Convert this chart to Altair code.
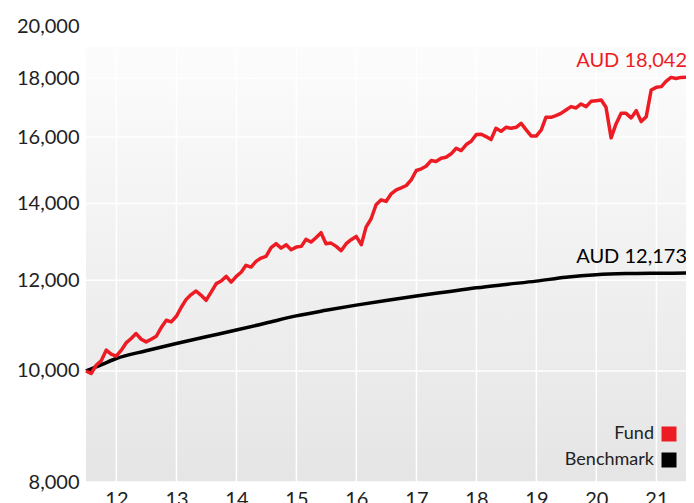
import calendar
import altair as alt
import pandas as pd

# ---------------- data ----------------
series_names = ["Fund", "Benchmark"]
series_colors = ["#ED1C24", "#000000"]

# Fund: month-end values, Jun 2011 .. Jun 2021 (growth of AUD 10,000)
fund_values = [
    10000, 9949, 10116, 10204, 10426, 10342, 10301, 10426, 10579, 10673,
    10780, 10658, 10601, 10658, 10722, 10911, 11072, 11035, 11161, 11372,
    11541, 11658, 11743, 11642, 11525, 11718, 11918, 11981, 12093, 11956,
    12093, 12199, 12364, 12322, 12463, 12546, 12589, 12810, 12914, 12800,
    12888, 12759, 12826, 12844, 13026, 12956, 13070, 13202, 12914, 12929,
    12844, 12734, 12914, 13018, 13104, 12888, 13351, 13577, 13965, 14105,
    14058, 14276, 14392, 14449, 14516, 14683, 14960, 15011, 15089, 15262,
    15232, 15334, 15365, 15470, 15644, 15572, 15760, 15865, 16080, 16089,
    16015, 15919, 16283, 16186, 16317, 16283, 16317, 16448, 16231, 16037,
    16030, 16230, 16647, 16647, 16704, 16781, 16895, 17009, 16963, 17101,
    17009, 17190, 17214, 17238, 16985, 15973, 16428, 16781, 16781, 16627,
    16872, 16504, 16670, 17588, 17681, 17706, 17894, 18038, 18000, 18038,
    18042,
]

bench_dates = [
    "2011-06-30", "2011-09-30", "2011-12-31", "2012-06-30", "2012-12-31",
    "2013-06-30", "2013-12-31", "2014-06-30", "2014-12-31", "2015-06-30",
    "2015-12-31", "2016-06-30", "2016-12-31", "2017-06-30", "2017-12-31",
    "2018-06-30", "2018-12-31", "2019-06-30", "2019-12-31", "2020-06-30",
    "2020-12-31", "2021-06-30",
]
bench_values = [
    10000, 10122, 10253, 10414, 10567,
    10711, 10857, 11010, 11170, 11296,
    11414, 11522, 11625, 11721, 11818,
    11899, 11978, 12072, 12135, 12162,
    12170, 12173,
]

y_ticks = [8000, 10000, 12000, 14000, 16000, 18000, 20000]
x_years = [2012, 2013, 2014, 2015, 2016, 2017, 2018, 2019, 2020, 2021]


def month_ends(year, month, n):
    out = []
    for _ in range(n):
        out.append(f"{year}-{month:02d}-{calendar.monthrange(year, month)[1]:02d}")
        month += 1
        if month > 12:
            month, year = 1, year + 1
    return out


fund_dates = month_ends(2011, 6, len(fund_values))

fund_df = pd.DataFrame({"date": fund_dates, "value": fund_values})
bench_df = pd.DataFrame({"date": bench_dates, "value": bench_values})
label_df = pd.DataFrame({
    "date": [fund_dates[-1], bench_dates[-1]],
    "value": [fund_values[-1], bench_values[-1]],
    "series": series_names,
    "label": [f"AUD {fund_values[-1]:,}", f"AUD {bench_values[-1]:,}"],
})
ytick_df = pd.DataFrame({"v": y_ticks})
xtick_df = pd.DataFrame({"d": [f"{y}-01-01" for y in x_years]})

# ---------------- chart ----------------
W, H = 600, 456
FONT = "Lato"

x_scale = alt.Scale(type="utc",
                    domain=[alt.DateTime(year=2011, month=6, date=30, utc=True),
                            alt.DateTime(year=2021, month=6, date=30, utc=True)])
y_scale = alt.Scale(type="log", domain=[8000, 20000], nice=False)
color_scale = alt.Scale(domain=series_names, range=series_colors)

x_axis = alt.Axis(values=[alt.DateTime(year=y, month=1, date=1, utc=True) for y in x_years],
                  format="%y", title=None, grid=False, domain=False, ticks=False,
                  labelFont=FONT, labelFontSize=20, labelColor="#222222", labelPadding=7,
                  labelFlush=False)
y_axis = alt.Axis(values=y_ticks, format=",.0f", title=None, grid=False, domain=False,
                  ticks=False, labelFont=FONT, labelFontSize=20, labelColor="#222222",
                  labelPadding=7)

legend = alt.Legend(orient="none", legendX=574, legendY=399, title=None,
                    direction="vertical", symbolType="square", symbolSize=225,
                    symbolStrokeWidth=0, symbolOffset=0, labelAlign="right",
                    labelOffset={"expr": "-24"},
                    labelFont=FONT, labelFontSize=18, labelColor="#222222",
                    rowPadding=8, padding=0)

gradient = alt.Gradient(gradient="linear", x1=0, x2=0, y1=0, y2=1,
                        stops=[alt.GradientStop(color="#fcfcfc", offset=0),
                               alt.GradientStop(color="#e5e5e5", offset=1)])

X = alt.X("date:T", scale=x_scale, axis=x_axis)
Y = alt.Y("value:Q", scale=y_scale, axis=y_axis)

bg = alt.Chart(pd.DataFrame({"k": [0]})).mark_rect(fill=gradient).encode(
    x=alt.value(0), x2=alt.value(W), y=alt.value(21), y2=alt.value(H))

hgrid = alt.Chart(ytick_df).mark_rule(color="white", strokeWidth=1.5).encode(
    y=alt.Y("v:Q", scale=y_scale, axis=y_axis), x=alt.value(0), x2=alt.value(W))

vgrid = alt.Chart(xtick_df).mark_rule(color="white", strokeWidth=1.5).encode(
    x=alt.X("d:T", scale=x_scale, axis=x_axis), y=alt.value(21), y2=alt.value(H))

bench_line = alt.Chart(bench_df).mark_line(
    strokeWidth=3.5, interpolate="monotone", color=series_colors[1]).encode(x=X, y=Y)

fund_line = alt.Chart(fund_df).mark_line(
    strokeWidth=3.5, color=series_colors[0], strokeJoin="round").encode(x=X, y=Y)

labels = alt.Chart(label_df).mark_text(align="right", baseline="alphabetic", dy=-10, dx=1,
                                       font=FONT, fontSize=20).encode(
    x=X, y=Y, text="label:N",
    color=alt.Color("series:N", scale=color_scale, legend=legend))

chart = alt.layer(bg, hgrid, vgrid, bench_line, fund_line, labels).properties(
    width=W, height=H,
    autosize=alt.AutoSizeParams(type="none"),
    padding={"left": 78, "top": 18, "right": 0, "bottom": 22},
    background="white",
).configure_view(stroke=None)

chart.save("out.html", embed_options={"renderer": "svg", "actions": False})
